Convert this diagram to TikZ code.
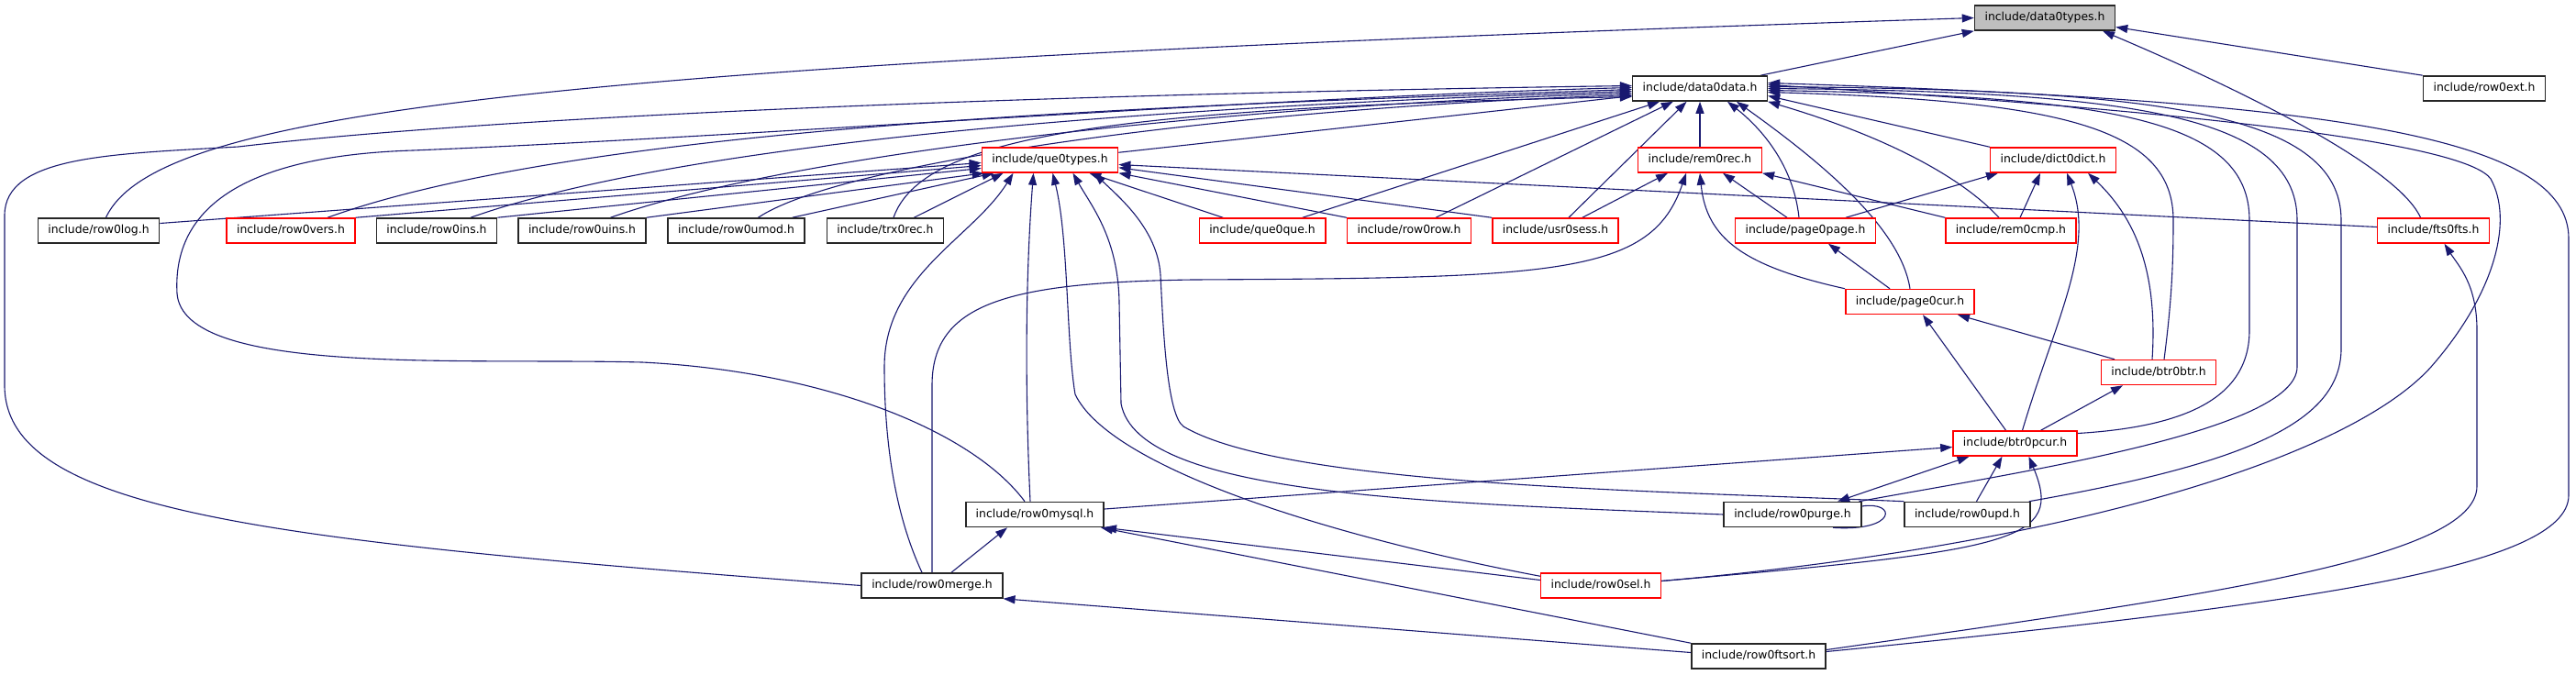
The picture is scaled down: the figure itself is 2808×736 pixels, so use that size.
\documentclass[tikz,border=0pt]{standalone}
\usepackage{fontspec}
\usepackage{xcolor}
\usepackage{tikz}
\usetikzlibrary{arrows.meta,backgrounds}
\newfontfamily\hdrfont{DejaVu Sans}
\definecolor{EdgeBlue}{HTML}{191970}
\definecolor{TruncRed}{HTML}{FF0000}
\definecolor{RootGray}{HTML}{BFBFBF}
\definecolor{BoxLine}{HTML}{262626}
\tikzset{
  hdr/.style={rectangle, draw=BoxLine, line width=1.6pt, fill=white,
              font=\hdrfont\fontsize{12.4}{14}\selectfont,
              inner xsep=11pt, inner ysep=0pt, minimum height=27pt,
              text height=9.5pt, text depth=2.6pt},
  hdrtrunc/.style={hdr, draw=TruncRed, line width=1.5pt},
  hdrroot/.style={hdr, fill=RootGray},
  dep/.style={draw=EdgeBlue, line width=1.1pt, -{Triangle[length=13pt,width=9pt]}},
}

\begin{document}
\begin{tikzpicture}[x=1pt, y=-1pt]
  \useasboundingbox (0,0) rectangle (2808,736);

  % files
  \node[hdrroot]  (dtypes)    at (2229,19.5)   {include/data0types.h};
  \node[hdr]      (ddata)     at (1853,96.5)   {include/data0data.h};
  \node[hdr]      (rowext)    at (2708,96.5)   {include/row0ext.h};
  \node[hdrtrunc] (qtypes)    at (1144.5,174.5) {include/que0types.h};
  \node[hdrtrunc] (remrec)    at (1853,174.5)  {include/rem0rec.h};
  \node[hdrtrunc] (dictdict)  at (2238,174.5)  {include/dict0dict.h};
  \node[hdr]      (rowlog)    at (107.5,251.5) {include/row0log.h};
  \node[hdrtrunc] (rowvers)   at (317,251.5)   {include/row0vers.h};
  \node[hdr]      (rowins)    at (476,251.5)   {include/row0ins.h};
  \node[hdr]      (rowuins)   at (634.5,251.5) {include/row0uins.h};
  \node[hdr]      (rowumod)   at (802.5,251.5) {include/row0umod.h};
  \node[hdr]      (trxrec)    at (965,251.5)   {include/trx0rec.h};
  \node[hdrtrunc] (queque)    at (1376,251.5)  {include/que0que.h};
  \node[hdrtrunc] (rowrow)    at (1536,251.5)  {include/row0row.h};
  \node[hdrtrunc] (usrsess)   at (1695.5,251.5) {include/usr0sess.h};
  \node[hdrtrunc] (pgpage)    at (1968,251.5)  {include/page0page.h};
  \node[hdrtrunc] (remcmp)    at (2192,251.5)  {include/rem0cmp.h};
  \node[hdrtrunc] (ftsfts)    at (2652.5,251.5) {include/fts0fts.h};
  \node[hdrtrunc] (pgcur)     at (2082,329)    {include/page0cur.h};
  \node[hdrtrunc] (btrbtr)    at (2353,406)    {include/btr0btr.h};
  \node[hdrtrunc] (btrpcur)   at (2196.5,483.5) {include/btr0pcur.h};
  \node[hdr]      (rowmysql)  at (1128,561)    {include/row0mysql.h};
  \node[hdr]      (rowpurge)  at (1954,561)    {include/row0purge.h};
  \node[hdr]      (rowupd)    at (2144.5,561)  {include/row0upd.h};
  \node[hdr]      (rowmerge)  at (1016,638.5)  {include/row0merge.h};
  \node[hdrtrunc] (rowsel)    at (1745,638.5)  {include/row0sel.h};
  \node[hdr]      (rowftsort) at (1917,715.5)  {include/row0ftsort.h};

  \begin{scope}[on background layer]
  \fill[white] (0,0) rectangle (2808,736);

  % into data0types
  \draw[dep] ([xshift=-8pt]ddata.north east) -- (dtypes.south west);
  \draw[dep] (rowext.north west) -- ([yshift=-10pt]dtypes.east);
  \draw[dep] ([xshift=-14pt]ftsfts.north) .. controls (2615,185) and (2460,105) .. ([xshift=63pt]dtypes.south);
  \draw[dep] ([xshift=8pt]rowlog.north) .. controls (170,120) and (600,70) .. (dtypes.west);

  % into data0data, from the left
  \draw[dep] (qtypes) -- (ddata);
  \draw[dep] (rowmerge.west) .. controls (300,590) and (5,560) .. (5,420) -- (5,235)
    .. controls (5,170) and (120,168) .. (260,160) .. controls (600,120) and (1300,100) .. ([yshift=3pt]ddata.west);
  \draw[dep] ([xshift=-11pt]rowmysql.north) .. controls (1060,470) and (900,405) .. (700,395)
    .. controls (500,390) and (200,410) .. (193,320) .. controls (188,230) and (260,170) .. (450,164)
    .. controls (800,150) and (1400,105) .. ([yshift=1pt]ddata.west);
  \draw[dep] ([xshift=40pt]rowvers.north) .. controls (640,135) and (1279,115) .. ([yshift=-1pt]ddata.west);
  \draw[dep] ([xshift=37pt]rowins.north) .. controls (760,150) and (1300,115) .. ([yshift=-3pt]ddata.west);
  \draw[dep] ([xshift=31pt]rowuins.north) .. controls (870,165) and (1350,115) .. ([yshift=-5pt]ddata.west);
  \draw[dep] ([xshift=24pt]rowumod.north) .. controls (920,175) and (1350,118) .. ([yshift=-7pt]ddata.west);
  \draw[dep] ([xshift=9pt]trxrec.north) .. controls (1005,150) and (1200,118) .. ([yshift=-9pt]ddata.west);

  % into data0data, from below
  \draw[dep] (queque) -- (ddata);
  \draw[dep] (rowrow) -- (ddata);
  \draw[dep] (usrsess) -- (ddata);
  \draw[dep] (remrec) -- (ddata);
  \draw[dep] ([xshift=-7pt]pgpage.north) .. controls (1955,180) and (1920,140) .. ([xshift=30pt]ddata.south);
  \draw[dep] (pgcur.north) .. controls (2072,250) and (1990,180) .. ([xshift=40pt]ddata.south);
  \draw[dep] ([xshift=-13pt]remcmp.north) .. controls (2140,195) and (2060,150) .. (ddata.south east);
  \draw[dep] (dictdict.north west) -- ([yshift=-8pt]ddata.east);

  % into data0data, from the right
  \draw[dep] ([xshift=6pt]btrbtr.north) .. controls (2367,330) and (2369,290) .. (2369,240)
    .. controls (2369,140) and (2250,110) .. ([yshift=-4pt]ddata.east);
  \draw[dep] ([yshift=11pt]btrpcur.east) .. controls (2390,465) and (2452,430) .. (2452,360) -- (2452,240)
    .. controls (2452,130) and (2300,105) .. ([yshift=-2pt]ddata.east);
  \draw[dep] ([xshift=-3pt]rowpurge.north east) .. controls (2200,515) and (2504,470) .. (2504,400) -- (2504,240)
    .. controls (2504,125) and (2320,100) .. (ddata.east);
  \draw[dep] ([xshift=-2pt]rowupd.north east) .. controls (2450,505) and (2552,460) .. (2552,380) -- (2552,240)
    .. controls (2552,120) and (2340,98) .. ([yshift=2pt]ddata.east);
  \draw[dep] ([yshift=5pt]rowsel.east) .. controls (2250,595) and (2560,500) .. (2650,400)
    .. controls (2720,320) and (2740,240) .. (2715,195) .. controls (2690,160) and (2450,125) .. ([yshift=4pt]ddata.east);
  \draw[dep] ([yshift=5pt]rowftsort.east) .. controls (2500,660) and (2800,620) .. (2800,540) -- (2800,260)
    .. controls (2800,150) and (2550,110) .. ([yshift=6pt]ddata.east);

  % into rem0rec
  \draw[dep] ([xshift=-40pt]usrsess.north east) -- ([xshift=-35pt]remrec.south);
  \draw[dep] (rowmerge.north) -- (1016,420) .. controls (1016,330) and (1100,308) .. (1300,305)
    .. controls (1700,303) and (1800,300) .. ([xshift=-15pt]remrec.south);
  \draw[dep] (pgcur.north west) .. controls (1900,290) and (1860,260) .. (remrec.south);
  \draw[dep] ([xshift=-20pt]pgpage.north) -- ([xshift=25pt]remrec.south);
  \draw[dep] (remcmp.north west) -- (remrec.south east);

  % into dict0dict
  \draw[dep] ([xshift=44pt]pgpage.north) -- ([xshift=-60pt]dictdict.south);
  \draw[dep] ([xshift=10pt]remcmp.north) -- ([xshift=-14pt]dictdict.south);
  \draw[dep] ([xshift=8pt]btrpcur.north) .. controls (2240,350) and (2285,270) .. ([xshift=15pt]dictdict.south);
  \draw[dep] ([xshift=-7pt]btrbtr.north) .. controls (2352,300) and (2330,240) .. ([xshift=38pt]dictdict.south);

  % page0page, page0cur, btr0btr
  \draw[dep] ([xshift=-22pt]pgcur.north) -- ([xshift=25pt]pgpage.south);
  \draw[dep] ([xshift=-10pt]btrpcur.north) -- ([xshift=14pt]pgcur.south);
  \draw[dep] ([xshift=-48pt]btrbtr.north) -- ([xshift=52pt]pgcur.south);
  \draw[dep] ([xshift=28pt]btrpcur.north) -- ([xshift=-39pt]btrbtr.south);

  % into btr0pcur
  \draw[dep] ([yshift=6pt]rowmysql.east) -- ([yshift=-4pt]btrpcur.west);
  \draw[dep, {Triangle[length=13pt,width=9pt]}-{Triangle[length=13pt,width=9pt]}]
    ([xshift=49pt]rowpurge.north) -- ([xshift=-50pt]btrpcur.south);
  \draw[dep] ([xshift=10pt]rowupd.north) -- ([xshift=-14pt]btrpcur.south);
  \draw[dep] ([yshift=5pt]rowsel.east) .. controls (2200,600) and (2250,590) .. ([xshift=15pt]btrpcur.south);
  \draw[dep, -] ([yshift=9pt]rowpurge.east) .. controls (2068,546) and (2068,580) .. ([xshift=44pt]rowpurge.south);

  % row0mysql, row0merge, fts0fts
  \draw[dep] ([yshift=6pt]rowsel.west) -- (rowmysql.south east);
  \draw[dep] (rowftsort.north west) -- ([xshift=-4pt]rowmysql.south east);
  \draw[dep] ([yshift=4pt]rowftsort.west) -- (rowmerge.south east);
  \draw[dep] ([xshift=21pt]rowmerge.north) -- ([xshift=-30pt]rowmysql.south);
  \draw[dep] ([yshift=7pt]rowftsort.east) .. controls (2400,650) and (2700,610) .. (2700,530) -- (2700,360)
    .. controls (2700,310) and (2680,290) .. ([xshift=12pt]ftsfts.south);

  % into que0types
  \draw[dep] ([yshift=8pt]rowlog.east) -- ([yshift=-3pt]qtypes.west);
  \draw[dep] (rowvers.north east) -- ([yshift=-6pt]qtypes.west);
  \draw[dep] (rowins.north east) -- ([yshift=-9pt]qtypes.west);
  \draw[dep] (rowuins.north east) -- ([xshift=3pt]qtypes.south west);
  \draw[dep] ([xshift=-14pt]rowumod.north east) -- ([xshift=14pt]qtypes.south west);
  \draw[dep] ([xshift=-33pt]trxrec.north east) -- ([xshift=24pt]qtypes.south west);
  \draw[dep] ([xshift=-11pt]rowmerge.north) .. controls (975,560) and (964,480) .. (964,400)
    .. controls (964,300) and (1060,260) .. ([xshift=-40pt]qtypes.south);
  \draw[dep] ([xshift=-5pt]rowmysql.north) .. controls (1117,420) and (1118,300) .. ([xshift=-18pt]qtypes.south);
  \draw[dep] ([yshift=-4pt]rowsel.north west) .. controls (1450,585) and (1210,510) .. (1172,430)
    .. controls (1162,370) and (1165,260) .. ([xshift=3pt]qtypes.south);
  \draw[dep] (rowpurge.west) .. controls (1550,548) and (1240,540) .. (1222,440) -- (1220,330)
    .. controls (1219,260) and (1190,225) .. ([xshift=25pt]qtypes.south);
  \draw[dep] (rowupd.north west) .. controls (1800,535) and (1400,530) .. (1290,465)
    .. controls (1272,452) and (1268,360) .. (1265,300) .. controls (1262,250) and (1220,215) .. ([xshift=48pt]qtypes.south);
  \draw[dep] (queque) -- (qtypes);
  \draw[dep] (rowrow.north west) -- (qtypes.south east);
  \draw[dep] (usrsess.north west) -- ([yshift=6pt]qtypes.south east);
  \draw[dep] ([yshift=4pt]ftsfts.west) -- ([yshift=-5pt]qtypes.east);
  \end{scope}
\end{tikzpicture}
\end{document}
